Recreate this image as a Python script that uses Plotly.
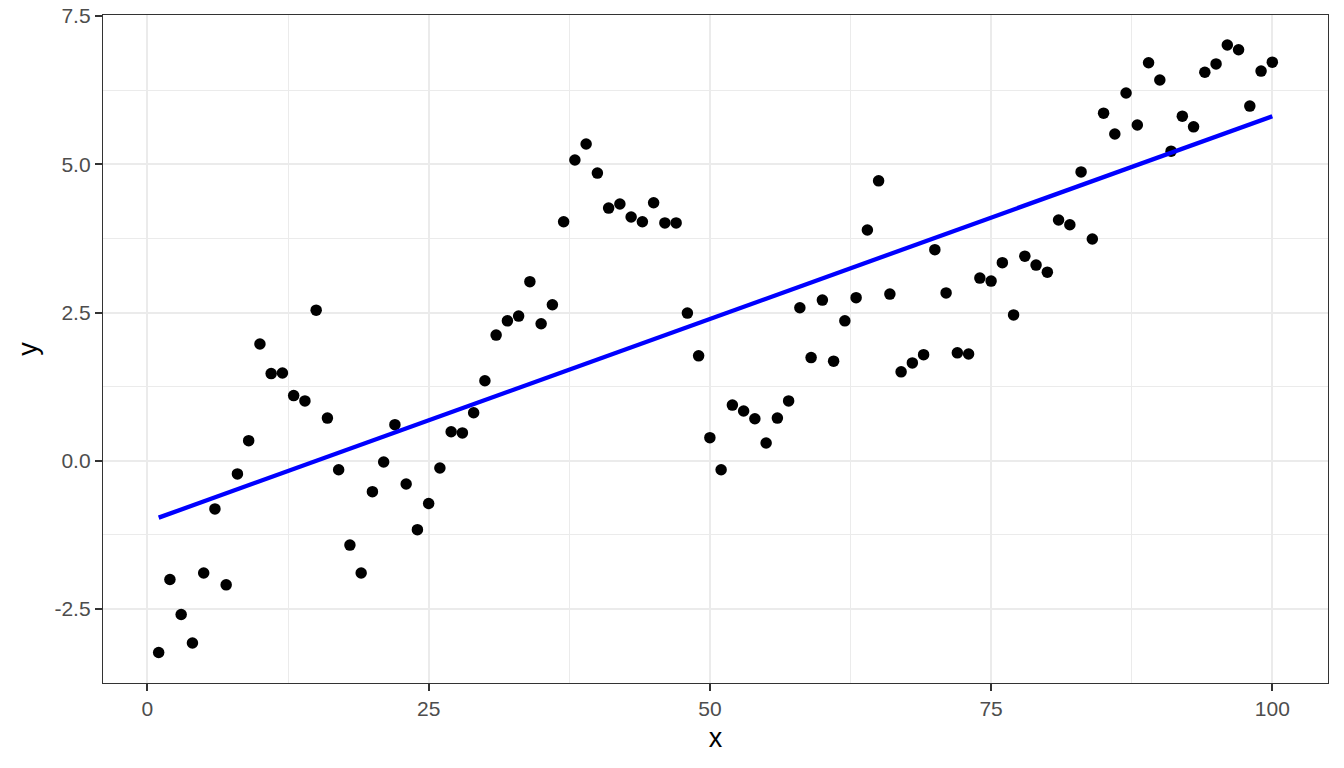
import numpy as np
import plotly.graph_objects as go

x_vals = list(range(1, 101))
y_vals = [
    -3.23, -2.00, -2.59, -3.07, -1.89, -0.81, -2.09, -0.22, 0.34, 1.97,
    1.47, 1.48, 1.10, 1.01, 2.54, 0.72, -0.15, -1.42, -1.89, -0.52,
    -0.02, 0.61, -0.39, -1.16, -0.72, -0.12, 0.49, 0.47, 0.81, 1.35,
    2.12, 2.36, 2.44, 3.02, 2.31, 2.63, 4.03, 5.07, 5.34, 4.85,
    4.26, 4.33, 4.11, 4.03, 4.35, 4.01, 4.01, 2.49, 1.77, 0.39,
    -0.15, 0.94, 0.84, 0.71, 0.30, 0.72, 1.01, 2.58, 1.74, 2.71,
    1.68, 2.36, 2.75, 3.89, 4.72, 2.81, 1.50, 1.65, 1.79, 3.56,
    2.83, 1.82, 1.80, 3.08, 3.03, 3.34, 2.46, 3.45, 3.30, 3.18,
    4.06, 3.98, 4.87, 3.74, 5.86, 5.51, 6.20, 5.66, 6.71, 6.42,
    5.22, 5.81, 5.63, 6.55, 6.69, 7.01, 6.93, 5.98, 6.57, 6.72,
]
x_ticks = [0, 25, 50, 75, 100]
x_minor = [12.5, 37.5, 62.5, 87.5]
y_ticks = [-2.5, 0.0, 2.5, 5.0, 7.5]
y_tick_labels = ["-2.5", "0.0", "2.5", "5.0", "7.5"]
y_minor = [-1.25, 1.25, 3.75, 6.25]

slope, intercept = np.polyfit(x_vals, y_vals, 1)
fit_x = [min(x_vals), max(x_vals)]
fit_y = [intercept + slope * v for v in fit_x]

FONT = "Liberation Sans, Arial, Helvetica, sans-serif"

fig = go.Figure()
fig.add_trace(go.Scatter(
    x=x_vals, y=y_vals, mode="markers",
    marker=dict(color="black", size=11.5, line=dict(width=0)),
    showlegend=False,
))
fig.add_trace(go.Scatter(
    x=fit_x, y=fit_y, mode="lines",
    line=dict(color="#0000FF", width=4.3),
    showlegend=False,
))

axis_common = dict(
    showgrid=True, gridcolor="#ebebeb", gridwidth=2.2,
    showline=True, linecolor="#333333", linewidth=1.4, mirror=True,
    ticks="outside", ticklen=7, tickcolor="#333333", tickwidth=2,
    tickfont=dict(family=FONT, size=21, color="#4d4d4d"),
    ticklabeloverflow="allow",
    automargin=False,
    zeroline=False,
)

fig.update_xaxes(
    range=[-3.95, 104.95], tickvals=x_ticks,
    title=dict(text="x", font=dict(family=FONT, size=27, color="black"), standoff=8),
    minor=dict(tickvals=x_minor, showgrid=True, gridcolor="#ebebeb", gridwidth=1.1, ticks=""),
    **axis_common,
)
fig.update_yaxes(
    range=[-3.745, 7.515], tickvals=y_ticks, ticktext=y_tick_labels,
    title=dict(text="y", font=dict(family=FONT, size=27, color="black"), standoff=8),
    minor=dict(tickvals=y_minor, showgrid=True, gridcolor="#ebebeb", gridwidth=1.1, ticks=""),
    **axis_common,
)

fig.update_layout(
    width=1328, height=752,
    margin=dict(l=95, r=8, t=7, b=77, autoexpand=False),
    plot_bgcolor="white", paper_bgcolor="white",
)

fig.write_html("out.html")
